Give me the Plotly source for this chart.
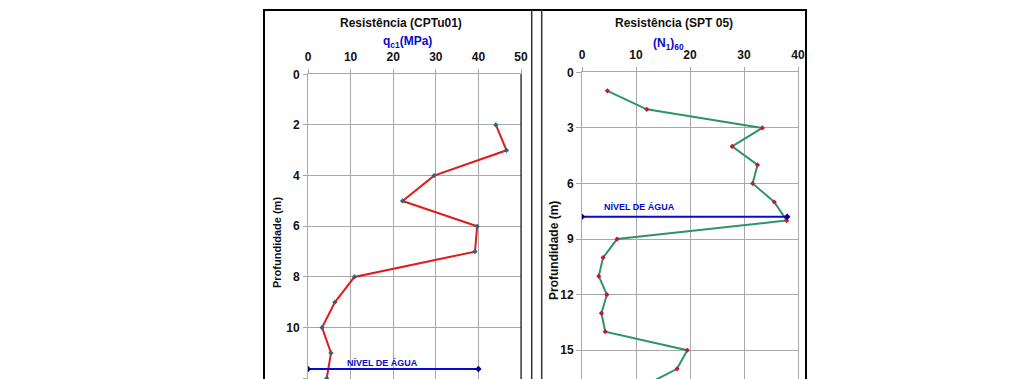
import plotly.graph_objects as go

# ---------------- data ----------------
cpt_depth = [2, 3, 4, 5, 6, 7, 8, 9, 10, 11, 12]
cpt_qc1 = [44.1, 46.6, 29.6, 22.2, 39.7, 39.2, 10.9, 6.3, 3.3, 5.4, 4.4]

spt_depth = [1, 2, 3, 4, 5, 6, 7, 8, 9, 10, 11, 12, 13, 14, 15, 16, 17]
spt_n160 = [4.7, 12.0, 33.4, 27.8, 32.5, 31.6, 35.6, 37.9, 6.5, 3.9, 3.1, 4.6, 3.6, 4.3, 19.5, 17.6, 11.0]

water_depth_cpt = 11.63
water_x_cpt = [0, 40]
water_depth_spt = 7.79
water_x_spt = [0, 38]

cpt_xticks = [0, 10, 20, 30, 40, 50]
cpt_yticks = [0, 2, 4, 6, 8, 10, 12]
spt_xticks = [0, 10, 20, 30, 40]
spt_yticks = [0, 3, 6, 9, 12, 15]

title_cpt = "Resistência (CPTu01)"
title_spt = "Resistência (SPT 05)"
sub_cpt = "q<sub>c1</sub>(MPa)"
sub_spt = "(N<sub>1</sub>)<sub>60</sub>"
ytitle = "Profundidade (m)"
water_label = "NÍVEL DE ÁGUA"

# ---------------- layout geometry ----------------
W, H = 1024, 379
def px(x):
    return x / W
def py(y):
    return 1 - y / H

GRID = "#a8a8a8"
BLUE = "#0a0acc"
FONT = "Liberation Sans"
NARROW = "Liberation Sans Narrow, Liberation Sans"

fig = go.Figure()

fig.add_trace(go.Scatter(
    x=cpt_qc1, y=cpt_depth, mode="lines+markers",
    line=dict(color="#e01b1b", width=2),
    marker=dict(symbol="diamond", size=4, color="#2a6478"),
    xaxis="x", yaxis="y", showlegend=False, hoverinfo="skip"))
fig.add_trace(go.Scatter(
    x=water_x_cpt, y=[water_depth_cpt] * 2, mode="lines+markers",
    line=dict(color=BLUE, width=2),
    marker=dict(symbol="diamond", size=5, color="#00008b"),
    xaxis="x", yaxis="y", showlegend=False, hoverinfo="skip"))

fig.add_trace(go.Scatter(
    x=spt_n160, y=spt_depth, mode="lines+markers",
    line=dict(color="#2e9468", width=2),
    marker=dict(symbol="diamond", size=4, color="#c8143c"),
    xaxis="x2", yaxis="y2", showlegend=False, hoverinfo="skip"))
fig.add_trace(go.Scatter(
    x=water_x_spt, y=[water_depth_spt] * 2, mode="lines+markers",
    line=dict(color=BLUE, width=2),
    marker=dict(symbol="diamond", size=5, color="#00008b"),
    xaxis="x2", yaxis="y2", showlegend=False, hoverinfo="skip"))

common_x = dict(side="top", showgrid=True, gridcolor=GRID, gridwidth=1,
                zeroline=False, showline=True, linecolor=GRID, linewidth=1,
                ticks="outside", ticklen=4, tickcolor=GRID,
                tickfont=dict(family=NARROW, size=12, color="#111", weight="bold"),
                ticklabelstandoff=4, fixedrange=True, automargin=False)
common_y = dict(showgrid=True, gridcolor=GRID, gridwidth=1,
                zeroline=False, showline=True, linecolor=GRID, linewidth=1,
                mirror=True, ticks="outside", tickcolor=GRID, fixedrange=True,
                automargin=False)

fig.update_layout(
    width=W, height=H, autosize=False, margin=dict(l=0, r=0, t=0, b=0, pad=0),
    paper_bgcolor="white", plot_bgcolor="white",
    xaxis=dict(common_x, domain=[px(308), px(521)], range=[0, 50],
               tickvals=cpt_xticks, anchor="y"),
    yaxis=dict(common_y, domain=[0, py(74.3)],
               range=[(379 - 74.3) / 25.33, 0], tickvals=cpt_yticks,
               ticklen=4, ticklabelstandoff=1,
               tickfont=dict(family=FONT, size=12, color="#111", weight="bold"),
               anchor="x"),
    xaxis2=dict(common_x, domain=[px(582), px(798)], range=[0, 40],
                tickvals=spt_xticks, anchor="y2"),
    yaxis2=dict(common_y, domain=[0, py(72.3)],
                range=[(379 - 72.3) / 18.53, 0], tickvals=spt_yticks,
                ticklen=5, ticklabelstandoff=0,
                tickfont=dict(family=NARROW, size=12, color="#111", weight="bold"),
                anchor="x2"),
)

# frame, divider and dark right edge of the left plot
shapes = [
    dict(type="rect", xref="paper", yref="paper",
         x0=px(264), x1=px(806), y0=-0.01, y1=py(10),
         line=dict(color="black", width=2)),
    dict(type="line", xref="paper", yref="paper",
         x0=px(531.7), x1=px(531.7), y0=0, y1=py(10),
         line=dict(color="#333", width=1.5)),
    dict(type="line", xref="paper", yref="paper",
         x0=px(541.7), x1=px(541.7), y0=0, y1=py(10),
         line=dict(color="#333", width=1.5)),
    dict(type="line", xref="paper", yref="paper",
         x0=px(521), x1=px(521), y0=0, y1=py(74.3),
         line=dict(color="#222", width=1.2)),
]
fig.update_layout(shapes=shapes)

ann = []
def txt(text, x, y, size, color="#111", angle=0, family=FONT):
    ann.append(dict(text=text, xref="paper", yref="paper", x=px(x), y=py(y),
                    xanchor="center", yanchor="middle", showarrow=False,
                    textangle=angle,
                    font=dict(family=family, size=size, color=color, weight="bold")))

txt(title_cpt, 400.5, 23, 12)
txt(title_spt, 673.5, 23, 12)
txt(sub_cpt, 407, 42, 12, BLUE)
txt(sub_spt, 668, 44, 12, BLUE)
txt(ytitle, 277, 243, 11, angle=-90)
txt(ytitle, 554, 251, 12, angle=-90)

ann.append(dict(text=water_label, xref="x", yref="y", x=17.6, y=11.4,
                xanchor="center", yanchor="middle", showarrow=False,
                font=dict(family=FONT, size=9, color=BLUE, weight="bold")))
ann.append(dict(text=water_label, xref="x2", yref="y2", x=10.6, y=7.25,
                xanchor="center", yanchor="middle", showarrow=False,
                font=dict(family=FONT, size=9, color=BLUE, weight="bold")))
fig.update_layout(annotations=ann)

fig.write_html(
    "out.html",
    config={"displayModeBar": False, "responsive": False},
    post_script="document.body.style.margin='0';document.body.style.padding='0';"
                "document.body.style.overflow='hidden';"
                "document.documentElement.style.overflow='hidden';",
)
